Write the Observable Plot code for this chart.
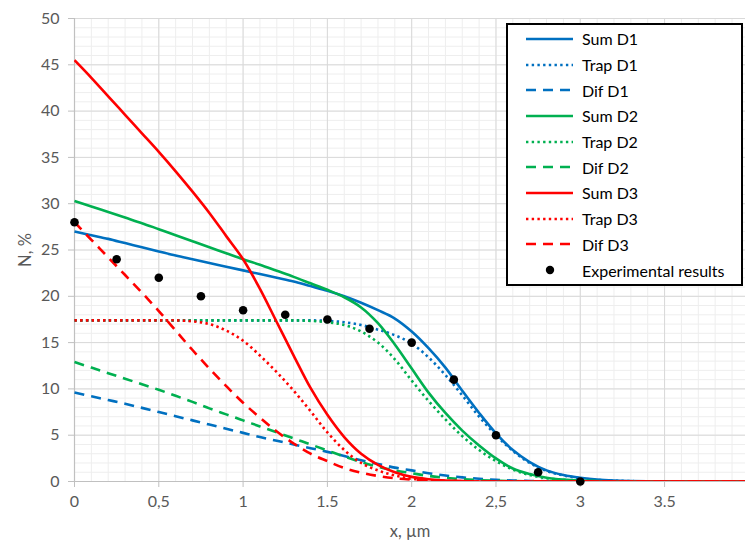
<!DOCTYPE html>
<html>
<head>
<meta charset="utf-8">
<script src="https://cdn.jsdelivr.net/npm/d3@7"></script>
<script src="https://cdn.jsdelivr.net/npm/@observablehq/plot@0.6"></script>
<style>
  html, body { margin: 0; padding: 0; background: #fff; }
  #wrap { position: relative; width: 745px; height: 542px; font-family: Lato, "Open Sans", sans-serif; }
  #legend { position: absolute; left: 506px; top: 23px; width: 233px; border: 2px solid #000; background: #fff; padding: 1px 0 1px 0; }
  .row { height: 25.7px; display: flex; align-items: center; font-size: 16px; color: #000; }
  .row svg { margin-left: 18px; margin-right: 9px; flex: none; }
</style>
</head>
<body>
<div id="wrap"></div>
<script>
// ---------- data ----------
const xs = [0,0.1,0.2,0.3,0.4,0.5,0.6,0.7,0.8,0.9,1.0,1.1,1.2,1.3,1.4,1.5,1.6,1.7,1.8,1.9,2.0,
            2.1,2.2,2.3,2.4,2.5,2.6,2.7,2.8,2.9,3.0,3.1,3.2,3.3,3.4,3.5,3.6,3.7,3.8,3.9,4.0];

const sumD1  = [27.0,26.6,26.2,25.75,25.3,24.85,24.4,24.0,23.6,23.2,22.8,22.4,22.0,21.6,21.1,20.6,20.0,19.3,18.5,17.6,16.2,
                14.4,12.3,9.8,7.4,5.2,3.4,2.1,1.2,0.7,0.4,0.2,0.1,0.05,0.02,0,0,0,0,0,0];
const trapD1 = [17.4,17.4,17.4,17.4,17.4,17.4,17.4,17.4,17.4,17.4,17.4,17.4,17.4,17.4,17.4,17.35,17.2,16.9,16.4,15.8,14.9,
                13.4,11.5,9.3,7.0,5.0,3.3,2.0,1.15,0.65,0.35,0.18,0.09,0.04,0.02,0,0,0,0,0,0];
const difD1  = [9.6,9.2,8.8,8.4,7.95,7.5,7.05,6.6,6.15,5.7,5.25,4.8,4.4,4.0,3.6,3.2,2.75,2.3,1.9,1.5,1.2,
                0.9,0.65,0.45,0.3,0.18,0.1,0.06,0.03,0.01,0,0,0,0,0,0,0,0,0,0,0];

const sumD2  = [30.3,29.7,29.1,28.5,27.9,27.25,26.6,25.95,25.3,24.65,24.0,23.4,22.75,22.1,21.4,20.7,19.9,18.8,17.1,14.8,12.2,
                9.6,7.4,5.5,3.9,2.5,1.4,0.8,0.4,0.2,0.1,0.05,0,0,0,0,0,0,0,0,0];
const trapD2 = [17.4,17.4,17.4,17.4,17.4,17.4,17.4,17.4,17.4,17.4,17.4,17.4,17.4,17.4,17.35,17.2,16.9,16.2,15.0,13.2,10.9,
                8.7,6.7,4.9,3.4,2.2,1.3,0.7,0.35,0.18,0.08,0.03,0,0,0,0,0,0,0,0,0];
const difD2  = [12.9,12.3,11.7,11.1,10.5,9.9,9.25,8.6,7.9,7.25,6.6,5.95,5.3,4.65,4.0,3.35,2.7,2.1,1.6,1.2,0.9,
                0.6,0.4,0.25,0.15,0.08,0.04,0.02,0,0,0,0,0,0,0,0,0,0,0,0,0];

const sumD3  = [45.5,43.6,41.6,39.6,37.6,35.6,33.5,31.3,29.0,26.5,24.0,20.8,17.2,13.6,10.1,7.2,4.8,3.0,1.8,1.0,0.5,
                0.25,0.1,0.05,0,0,0,0,0,0,0,0,0,0,0,0,0,0,0,0,0];
const trapD3 = [17.4,17.4,17.4,17.4,17.4,17.4,17.4,17.3,17.0,16.3,15.2,13.6,11.8,9.8,7.6,5.3,3.4,2.0,1.2,0.65,0.3,
                0.15,0.07,0.03,0,0,0,0,0,0,0,0,0,0,0,0,0,0,0,0,0];
const difD3  = [28.0,26.1,24.2,22.3,20.4,18.4,16.3,14.2,12.2,10.3,8.5,6.9,5.4,4.1,3.0,2.2,1.45,0.95,0.6,0.35,0.2,
                0.1,0.05,0,0,0,0,0,0,0,0,0,0,0,0,0,0,0,0,0,0];

const expX = [0,0.25,0.5,0.75,1.0,1.25,1.5,1.75,2.0,2.25,2.5,2.75,3.0];
const expY = [28,24,22,20,18.5,18,17.5,16.5,15,11,5,1,0];

const xTicks = [0,0.5,1,1.5,2,2.5,3,3.5];
const xTickLabels = ["0","0,5","1","1.5","2","2,5","3","3.5"];
const yTicks = [0,5,10,15,20,25,30,35,40,45,50];

const seriesNames = ["Sum D1","Trap D1","Dif D1","Sum D2","Trap D2","Dif D2","Sum D3","Trap D3","Dif D3"];
const seriesValues = [sumD1,trapD1,difD1,sumD2,trapD2,difD2,sumD3,trapD3,difD3];
const seriesColors = ["#0070C0","#0070C0","#0070C0","#00B050","#00B050","#00B050","#FF0000","#FF0000","#FF0000"];
const seriesKinds = ["solid","dot","dash","solid","dot","dash","solid","dot","dash"];

// ---------- styles ----------
const dashFor = {solid: null, dot: "2.4,3.3", dash: "10,7"};

const minorX = d3.range(0, 4.0001, 0.1).map(v => +v.toFixed(2));
const minorY = d3.range(0, 50.0001, 1);

const lineMarks = seriesValues.map((vals, i) => {
  const data = xs.map((x, j) => ({x, y: vals[j]}));
  return Plot.line(data, {
    x: "x", y: "y",
    stroke: seriesColors[i],
    strokeWidth: 2.6,
    strokeDasharray: dashFor[seriesKinds[i]],
    strokeLinecap: "butt",
    curve: "catmull-rom",
    clip: true
  });
});

const expData = expX.map((x, i) => ({x, y: expY[i]}));

const chart = Plot.plot({
  width: 745,
  height: 542,
  marginLeft: 74,
  marginRight: 0,
  marginTop: 18,
  marginBottom: 61,
  style: {fontFamily: "Lato, 'Open Sans', sans-serif", fontSize: "16px", color: "#595959", background: "#fff"},
  x: {domain: [0, 3.98], label: null},
  y: {domain: [0, 50], label: null},
  marks: [
    Plot.ruleX(minorX, {stroke: "#eeeeee", strokeWidth: 1}),
    Plot.ruleY(minorY, {stroke: "#eeeeee", strokeWidth: 1}),
    Plot.ruleX(xTicks, {stroke: "#d9d9d9", strokeWidth: 1}),
    Plot.ruleY(yTicks, {stroke: "#d9d9d9", strokeWidth: 1}),
    Plot.axisX(xTicks, {tickFormat: (d, i) => xTickLabels[i], tickSize: 6, tickPadding: 8, stroke: "#c0c0c0", fill: "#595959", label: null}),
    Plot.axisY(yTicks, {tickSize: 6, tickPadding: 9, stroke: "#c0c0c0", fill: "#595959", label: null}),
    Plot.ruleX([0], {stroke: "#c0c0c0", strokeWidth: 1.2}),
    Plot.ruleY([0], {stroke: "#c0c0c0", strokeWidth: 1.2}),
    ...lineMarks,
    Plot.dot(expData, {x: "x", y: "y", r: 4.3, fill: "#000", stroke: "none"}),
  ]
});

const wrap = document.getElementById("wrap");
wrap.appendChild(chart);

// axis titles
const ns = "http://www.w3.org/2000/svg";
const yTitle = document.createElementNS(ns, "text");
yTitle.setAttribute("transform", "translate(25,250) rotate(-90)");
yTitle.setAttribute("text-anchor", "middle");
yTitle.setAttribute("dominant-baseline", "central");
yTitle.setAttribute("fill", "#595959");
yTitle.setAttribute("font-size", "16.5px");
yTitle.textContent = "N, %";
chart.appendChild(yTitle);

const xTitle = document.createElementNS(ns, "text");
xTitle.setAttribute("x", 410);
xTitle.setAttribute("y", 531);
xTitle.setAttribute("text-anchor", "middle");
xTitle.setAttribute("dominant-baseline", "central");
xTitle.setAttribute("fill", "#595959");
xTitle.setAttribute("font-size", "16.5px");
xTitle.textContent = "x, µm";
chart.appendChild(xTitle);

// legend
const legend = document.createElement("div");
legend.id = "legend";
seriesNames.forEach((name, i) => {
  const row = document.createElement("div");
  row.className = "row";
  const dash = dashFor[seriesKinds[i]];
  row.innerHTML = `<svg width="47" height="6"><line x1="0" y1="3" x2="47" y2="3" stroke="${seriesColors[i]}" stroke-width="2.6" ${dash ? `stroke-dasharray="${dash}"` : ""}/></svg><span>${name}</span>`;
  legend.appendChild(row);
});
const expRow = document.createElement("div");
expRow.className = "row";
expRow.innerHTML = `<svg width="47" height="10"><circle cx="24" cy="5" r="4.2" fill="#000"/></svg><span>Experimental results</span>`;
legend.appendChild(expRow);
wrap.appendChild(legend);
</script>
</body>
</html>
